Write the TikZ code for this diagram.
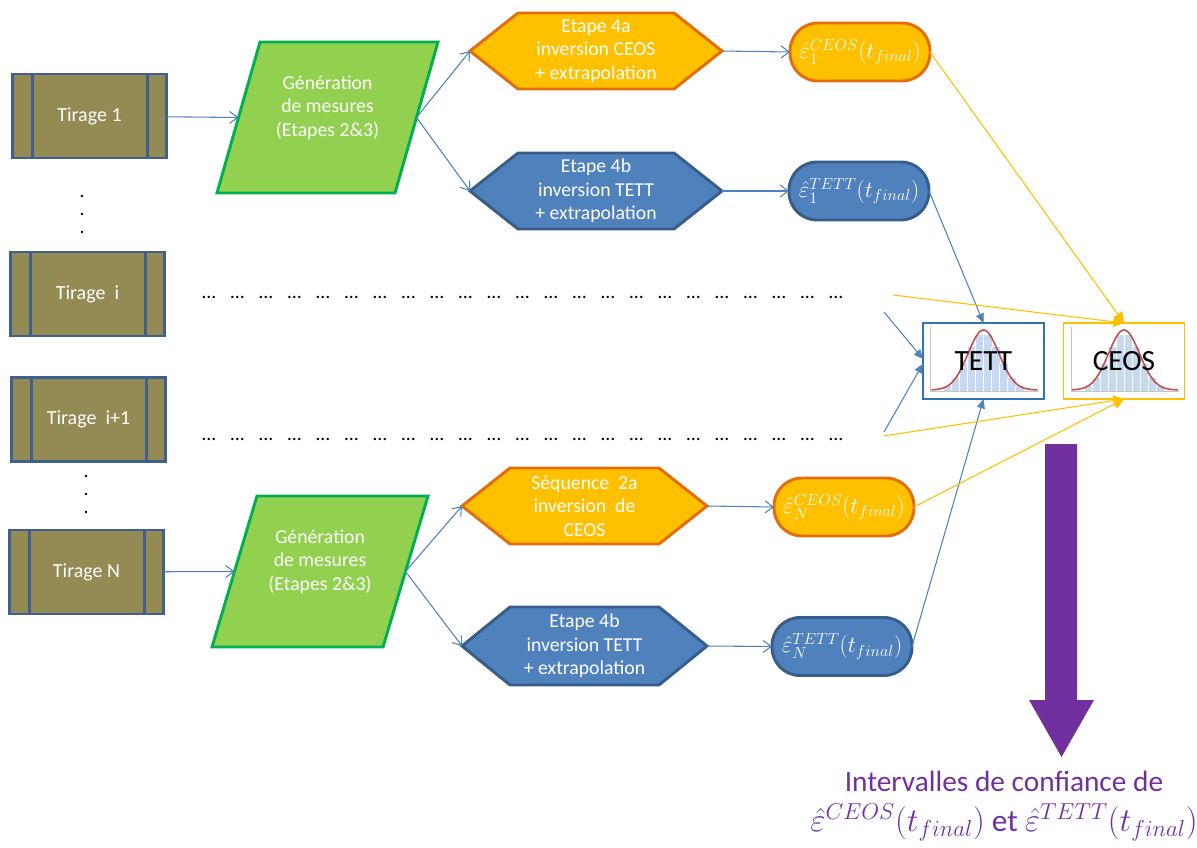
\documentclass[tikz,border=0pt]{standalone}
\usepackage{fontspec}
\setmainfont{Carlito}
\usetikzlibrary{arrows.meta,backgrounds,calc}
\definecolor{tirf}{HTML}{948A54}
\definecolor{tirb}{HTML}{3F5F8E}
\definecolor{gf}{HTML}{92D050}
\definecolor{gd}{HTML}{00B050}
\definecolor{of}{HTML}{FFC000}
\definecolor{od}{HTML}{E46C0A}
\definecolor{bf}{HTML}{4F81BD}
\definecolor{bd}{HTML}{385D8A}
\definecolor{cblue}{HTML}{4F81BD}
\definecolor{cyel}{HTML}{FFC000}
\definecolor{purp}{HTML}{7030A0}
\definecolor{tettb}{HTML}{2E75B6}
\definecolor{barblue}{HTML}{C6D9F1}
\definecolor{curvered}{HTML}{C0504D}
\newcommand\fs{\fontsize{14.8}{17.6}\selectfont}
\newcommand\hexa[3]{\path[fill=#2,draw=#3,line width=2.2pt,line join=miter] (#1.west) -- ([xshift=36pt]#1.north west) -- ([xshift=-36pt]#1.north east) -- (#1.east) -- ([xshift=-36pt]#1.south east) -- ([xshift=36pt]#1.south west) -- cycle;}
\newcommand\para[2]{\path[fill=gf,draw=gd,line width=2.2pt,line join=miter] (#1.south west) -- ([xshift=#2]#1.north west) -- (#1.north east) -- ([xshift=-#2]#1.south east) -- cycle;}
\newcommand\bell[1]{%
\begin{scope}[shift={(#1.center)}]
  \foreach \k in {-40,-32,...,32} {
    \pgfmathsetmacro\hh{58*exp(-((\k+4)*(\k+4))/512)}
    \fill[barblue] (\k,30) rectangle ({\k+8},{30-\hh});
    \draw[white,line width=0.3pt] (\k,30) -- (\k,{30-\hh});
  }
  \draw[gray!45,line width=0.5pt] (-53,-34) -- (-53,30) -- (55,30);
  \draw[curvered,line width=1.2pt] plot[domain=-52:54,samples=70] (\x,{29-60*exp(-(\x*\x)/480)});
\end{scope}}
\begin{document}
\begin{tikzpicture}[x=0.75pt,y=-0.75pt,
  tirage/.style={draw=tirb,fill=tirf,line width=2.2pt,minimum width=115.5pt,minimum height=63pt,inner sep=0pt,outer sep=0pt,text=white,font=\fontsize{15}{18}\selectfont},
  shp/.style={inner sep=0pt,outer sep=0pt,text=white,font=\fs,align=center},
  res/.style={rounded corners=21pt,line width=2.2pt,minimum width=105pt,minimum height=43.5pt,inner sep=0pt,outer sep=0pt,text=white,font=\fontsize{16.5}{20}\selectfont},
  distb/.style={line width=1.1pt,minimum width=90.75pt,minimum height=57pt,inner sep=0pt,outer sep=0pt,font=\fontsize{22}{26}\selectfont,text=black},
  conn/.style={draw=cblue,line width=0.8pt,-{Straight Barb[length=6pt,width=9pt]}},
  blin/.style={draw=cblue,line width=0.8pt,-{Triangle[length=7pt,width=6pt]}},
  ylin/.style={draw=cyel,line width=0.8pt,-{Triangle[length=8pt,width=8pt]}},
  dotsty/.style={anchor=base,inner sep=0pt,font=\fs,text=black}
]
\useasboundingbox (0,0) rectangle (1197,847);

% Tirage boxes
\node[tirage] (t1) at (89.5,116) {Tirage 1};
\node[tirage] (ti) at (87.5,294) {Tirage\ \ i};
\node[tirage] (tj) at (88.5,419.5) {Tirage\ \ i+1};
\node[tirage] (tn) at (86.5,572) {Tirage N};
\foreach \nm in {t1,ti,tj,tn} {
  \draw[tirb,line width=2.2pt] ([xshift=15pt]\nm.north west) -- ([xshift=15pt]\nm.south west);
  \draw[tirb,line width=2.2pt] ([xshift=-14pt]\nm.north east) -- ([xshift=-14pt]\nm.south east);
}

% vertical dots
\foreach \yy [count=\c] in {197,215,233} \node[dotsty] (va\c) at (82,\yy) {.};
\foreach \yy [count=\c] in {477,495,513} \node[dotsty] (vb\c) at (86,\yy) {.};

% Parallelograms
\node[shp,minimum width=165.75pt,minimum height=113.25pt] (g1) at (327.5,117.5) {Génération\\de mesures\\(Etapes 2\&3)\\ };
\node[shp,minimum width=162pt,minimum height=113.25pt] (g2) at (320,571.5) {Génération\\de mesures\\(Etapes 2\&3)\\ };
\coordinate (g1l) at ($(g1.south west)!0.5!([xshift=32.25pt]g1.north west)$);
\coordinate (g1r) at ($(g1.north east)!0.5!([xshift=-32.25pt]g1.south east)$);
\coordinate (g2l) at ($(g2.south west)!0.5!([xshift=33.75pt]g2.north west)$);
\coordinate (g2r) at ($(g2.north east)!0.5!([xshift=-33.75pt]g2.south east)$);

% Hexagons
\node[shp,minimum width=189pt,minimum height=57pt] (h1) at (596,51) {Etape 4a\\inversion CEOS\\+ extrapolation};
\node[shp,minimum width=189pt,minimum height=57pt] (h2) at (596,191) {Etape 4b\\inversion TETT\\+ extrapolation};
\node[shp,minimum width=183.75pt,minimum height=57pt] (h3) at (584.5,506) {Séquence\ \ 2a\\inversion\ \ de\\CEOS};
\node[shp,minimum width=183.75pt,minimum height=58.5pt] (h4) at (584.5,646) {Etape 4b\\inversion TETT\\+ extrapolation};

% result boxes
\node[res,draw=od,fill=of] (r1) at (860,52) {$\hat{\varepsilon}_1^{CEOS}(t_{final})$};
\node[res,draw=bd,fill=bf] (r2) at (859,191) {$\hat{\varepsilon}_1^{TETT}(t_{final})$};
\node[res,draw=od,fill=of] (r3) at (844,507) {$\hat{\varepsilon}_N^{CEOS}(t_{final})$};
\node[res,draw=bd,fill=bf] (r4) at (842,646.5) {$\hat{\varepsilon}_N^{TETT}(t_{final})$};

% distribution boxes
\node[distb,draw=tettb] (tett) at (983.5,361) {TETT};
\node[distb,draw=cyel] (ceos) at (1124,361) {CEOS};

\begin{scope}[on background layer]
  \para{g1}{32.25pt}
  \para{g2}{33.75pt}
  \hexa{h1}{of}{od}
  \hexa{h2}{bf}{bd}
  \hexa{h3}{of}{od}
  \hexa{h4}{bf}{bd}
  \bell{tett}
  \bell{ceos}
\end{scope}

% horizontal dot rows
\foreach \i in {0,...,22} {
  \node[dotsty] (da\i) at ({209+28.5*\i},298) {…};
  \node[dotsty] (db\i) at ({209+28.5*\i},440) {…};
}

% main connectors
\draw[conn] (t1) -- (g1l);
\draw[conn] (tn) -- (g2l);
\draw[conn] (g1r) -- (h1.west);
\draw[conn] (g1r) -- (h2.west);
\draw[conn] (g2r) -- (h3.west);
\draw[conn] (g2r) -- (h4.west);
\draw[conn] (h1.east) -- (r1.west);
\draw[conn] (h2.east) -- (r2.west);
\draw[conn] (h3.east) -- (r3.west);
\draw[conn] (h4.east) -- (r4.west);

% into distributions
\coordinate (fb1) at (884,312);
\coordinate (fb2) at (884,432);
\coordinate (fy1) at (893,295);
\coordinate (fy2) at (884,436);
\draw[blin] (r2.east) -- (tett.north);
\draw[blin] (r4.east) -- (tett.south);
\draw[blin] (fb1) -- ([yshift=1.5pt]tett.west);
\draw[blin] (fb2) -- ([yshift=-2pt]tett.west);
\draw[ylin] (r1.east) -- (ceos.north);
\draw[ylin] (fy1) -- (ceos.north);
\draw[ylin] (fy2) -- (ceos.south);
\draw[ylin] (r3.east) -- (ceos.south);

% purple arrow
\fill[purp] (1045,444) -- (1077,444) -- (1077,700) -- (1094,700) -- (1061.5,757) -- (1029,700) -- (1045,700) -- cycle;
\node[text=purp,align=center,font=\fontsize{22}{30}\selectfont,inner sep=0pt] (conf) at (1004,806) {Intervalles de confiance de\\{\fontsize{23.5}{30}\selectfont$\hat{\varepsilon}^{CEOS}(t_{final})$\ et\ $\hat{\varepsilon}^{TETT}(t_{final})$}};
\end{tikzpicture}
\end{document}
